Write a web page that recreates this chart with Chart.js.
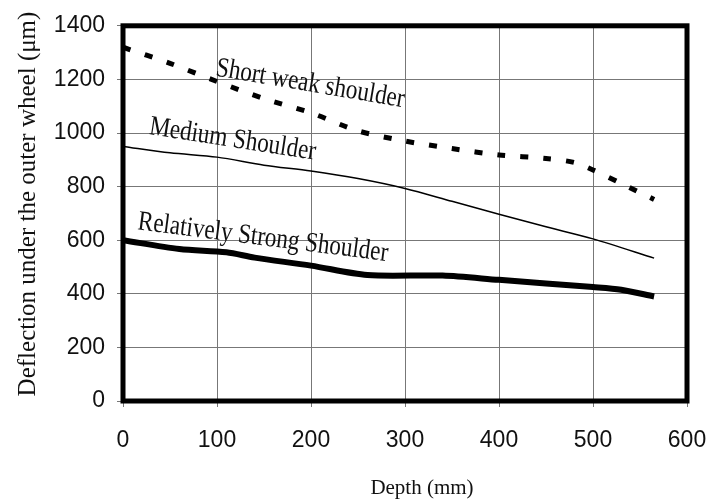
<!DOCTYPE html>
<html>
<head>
<meta charset="utf-8">
<script src="https://cdn.jsdelivr.net/npm/chart.js@4.4.1/dist/chart.umd.min.js"></script>
<style>
  html, body { margin: 0; padding: 0; background: #fff; }
  canvas { display: block; }
</style>
</head>
<body>
<canvas id="chart" width="707" height="504"></canvas>
<script>
// values
const depthWeak = [0, 50, 100, 150, 200, 250, 300, 350, 400, 450, 480, 500, 530, 565]
const weakShoulder = [1320, 1260, 1192, 1128, 1075, 1008, 970, 942, 918, 905, 890, 862, 812, 752]

const depthMedium = [0, 50, 100, 150, 200, 250, 300, 350, 400, 450, 500, 565]
const mediumShoulder = [950, 926, 910, 880, 858, 830, 793, 745, 697, 650, 605, 533]

const depthStrong = [0, 60, 110, 140, 200, 260, 340, 400, 500, 530, 565]
const strongShoulder = [600, 567, 555, 535, 505, 470, 468, 452, 425, 415, 390]

const xTicks = [0, 100, 200, 300, 400, 500, 600]
const yTicks = [0, 200, 400, 600, 800, 1000, 1200, 1400]

const curveLabels = ["Short weak shoulder", "Medium Shoulder", "Relatively Strong Shoulder"]

const toPoints = (xs, ys) => xs.map((x, i) => ({ x, y: ys[i] }))

// where each curve label sits, start and end of its baseline in data units
const labelPlacement = [
  { from: [98, 1215], to: [298, 1096] },
  { from: [27, 996], to: [204, 900] },
  { from: [15, 641], to: [281, 522] },
]

const curveLabelPlugin = {
  id: "curveLabels",
  afterDraw(chart) {
    const { ctx, scales } = chart
    const area = chart.chartArea

    // thick frame round the plot
    ctx.save()
    ctx.strokeStyle = "#000"
    ctx.lineWidth = 5
    ctx.strokeRect(area.left, area.top, area.right - area.left, area.bottom - area.top)
    ctx.restore()

    ctx.save()
    ctx.fillStyle = "#111"
    ctx.font = "28px 'Liberation Serif', 'Times New Roman', serif"
    ctx.textBaseline = "alphabetic"
    curveLabels.forEach((text, i) => {
      const p = labelPlacement[i]
      const x0 = scales.x.getPixelForValue(p.from[0])
      const y0 = scales.y.getPixelForValue(p.from[1])
      const x1 = scales.x.getPixelForValue(p.to[0])
      const y1 = scales.y.getPixelForValue(p.to[1])
      const len = Math.hypot(x1 - x0, y1 - y0)
      const w = ctx.measureText(text).width
      ctx.save()
      ctx.translate(x0, y0)
      ctx.rotate(Math.atan2(y1 - y0, x1 - x0))
      ctx.scale(len / w, 1)
      ctx.fillText(text, 0, 0)
      ctx.restore()
    })
    ctx.restore()

    // axis titles
    ctx.save()
    ctx.fillStyle = "#111"
    ctx.textAlign = "center"
    ctx.textBaseline = "middle"
    ctx.font = "21px 'Liberation Serif', 'Times New Roman', serif"
    ctx.fillText("Depth (mm)", 422, 488)
    ctx.translate(28, 204)
    ctx.rotate(-Math.PI / 2)
    ctx.font = "25px 'Liberation Serif', 'Times New Roman', serif"
    ctx.fillText("Deflection under the outer wheel (\u03bcm)", 0, 0)
    ctx.restore()
  },
}

const tickFont = { family: "'Liberation Sans', Arial, sans-serif", size: 23 }
const plainNumber = (v) => String(v)

new Chart(document.getElementById("chart"), {
  type: "line",
  data: {
    datasets: [
      {
        label: curveLabels[0],
        data: toPoints(depthWeak, weakShoulder),
        borderColor: "#000",
        borderWidth: 5,
        borderDash: [8, 15],
        pointRadius: 0,
        tension: 0.3,
      },
      {
        label: curveLabels[1],
        data: toPoints(depthMedium, mediumShoulder),
        borderColor: "#000",
        borderWidth: 1.5,
        pointRadius: 0,
        tension: 0.3,
      },
      {
        label: curveLabels[2],
        data: toPoints(depthStrong, strongShoulder),
        borderColor: "#000",
        borderWidth: 6,
        pointRadius: 0,
        tension: 0.3,
      },
    ],
  },
  options: {
    responsive: false,
    animation: false,
    layout: { padding: { top: 23, right: 0, left: 0, bottom: 0 } },
    plugins: { legend: { display: false }, tooltip: { enabled: false } },
    scales: {
      x: {
        type: "linear",
        min: 0,
        max: 600,
        afterBuildTicks: (s) => { s.ticks = xTicks.map((v) => ({ value: v })) },
        afterFit: (s) => { s.height = 103; s.paddingRight = 20 },
        ticks: { font: tickFont, color: "#111", padding: 20, callback: plainNumber },
        grid: { color: "#777", lineWidth: 1, tickLength: 6 },
        border: { display: false },
      },
      y: {
        min: 0,
        max: 1400,
        afterBuildTicks: (s) => { s.ticks = yTicks.map((v) => ({ value: v })) },
        afterFit: (s) => { s.width = 123 },
        ticks: { font: tickFont, color: "#111", padding: 12, callback: plainNumber },
        grid: { color: "#777", lineWidth: 1, tickLength: 6 },
        border: { display: false },
      },
    },
  },
  plugins: [curveLabelPlugin],
})
</script>
</body>
</html>
